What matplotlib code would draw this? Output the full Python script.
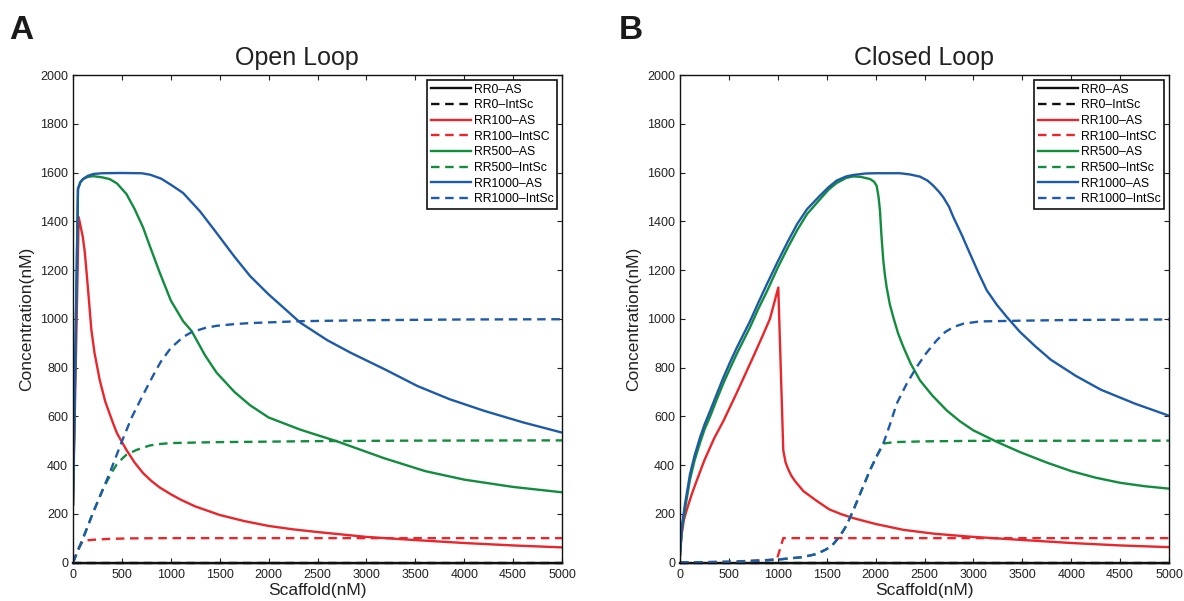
import numpy as np
import matplotlib
matplotlib.use('Agg')
import matplotlib.pyplot as plt

plt.rcParams['font.family'] = ['Liberation Sans', 'DejaVu Sans']

# ---- data (Scaffold nM -> Concentration nM) ----
titles = ['Open Loop', 'Closed Loop']
panel_labels = ['A', 'B']
series_names = ['RR0–AS', 'RR0–IntSc', 'RR100–AS', 'RR100–IntSC',
                'RR500–AS', 'RR500–IntSc', 'RR1000–AS', 'RR1000–IntSc']

# open loop
ol_rr0_as_x = [0, 5000]
ol_rr0_as_y = [0, 0]
ol_rr0_int_x = [0, 5000]
ol_rr0_int_y = [0, 0]
ol_rr100_as_x = [0, 58, 100, 120, 137, 160, 188, 220, 273, 330, 409, 450, 546,
                 630, 716, 800, 886, 1000, 1100, 1250, 1500, 1750, 2000, 2250,
                 2500, 3000, 3500, 4000, 4500, 5000]
ol_rr100_as_y = [237, 1417, 1336, 1275, 1199, 1090, 954, 860, 749, 660, 572, 530, 462,
                 410, 367, 335, 308, 280, 258, 230, 195, 170, 150, 136,
                 125, 105, 92, 80, 70, 62]
ol_rr100_int_x = [0, 50, 100, 150, 200, 375, 600, 1000, 5000]
ol_rr100_int_y = [0, 53, 87, 91, 93, 97, 99, 100, 100]
ol_rr500_as_x = [0, 51, 75, 102, 150, 208, 300, 375, 450, 546, 630, 716, 784,
                 886, 1000, 1126, 1212, 1350, 1468, 1650, 1811, 2000, 2324,
                 2700, 3180, 3600, 4000, 4500, 5000]
ol_rr500_as_y = [237, 1533, 1560, 1573, 1582, 1585, 1580, 1573, 1555, 1512, 1450, 1375, 1300,
                 1190, 1075, 990, 950, 850, 779, 700, 645, 595, 545,
                 497, 428, 375, 340, 310, 288]
ol_rr500_int_x = [0, 100, 200, 300, 350, 400, 443, 500, 546, 650, 784, 886,
                  1000, 1500, 1811, 2500, 3500, 5000]
ol_rr500_int_y = [0, 95, 200, 295, 335, 372, 400, 425, 442, 462, 480, 486,
                  490, 494, 495, 498, 500, 501]
ol_rr1000_as_x = [0, 51, 75, 102, 150, 208, 300, 500, 700, 789, 900, 1000,
                  1126, 1300, 1468, 1650, 1811, 2000, 2324, 2600, 2837, 3200,
                  3522, 3850, 4206, 4600, 5000]
ol_rr1000_as_y = [237, 1533, 1560, 1573, 1586, 1594, 1597, 1598, 1597, 1591, 1575, 1550,
                  1516, 1440, 1352, 1255, 1175, 1100, 984, 912, 861, 790,
                  724, 670, 622, 575, 533]
ol_rr1000_int_x = [0, 100, 204, 375, 500, 600, 700, 784, 850, 900, 1000, 1126,
                   1212, 1350, 1468, 1650, 1800, 2324, 3000, 4000, 5000]
ol_rr1000_int_y = [0, 98, 203, 367, 497, 595, 675, 740, 790, 825, 880, 925,
                   945, 962, 971, 978, 982, 990, 994, 997, 998]

# closed loop
cl_rr0_as_x = [0, 5000]
cl_rr0_as_y = [0, 0]
cl_rr0_int_x = [0, 5000]
cl_rr0_int_y = [0, 0]
cl_rr100_as_x = [0, 15, 40, 68, 120, 170, 250, 350, 443, 579, 750, 850, 920,
                 1005, 1030, 1056, 1080, 1107, 1140, 1176, 1261, 1397, 1526,
                 1650, 1773, 2000, 2284, 2600, 2965, 3476, 4000, 4500, 5000]
cl_rr100_as_y = [30, 110, 175, 215, 280, 335, 420, 510, 580, 695, 845, 935, 1000,
                 1128, 800, 460, 410, 382, 355, 334, 293, 253, 218,
                 198, 182, 158, 134, 118, 106, 93, 80, 70, 63]
cl_rr100_int_x = [0, 500, 990, 1056, 1200, 5000]
cl_rr100_int_y = [0, 3, 12, 100, 100, 100]
cl_rr500_as_x = [0, 20, 51, 102, 150, 204, 250, 307, 375, 443, 510, 579, 650,
                 716, 800, 886, 1000, 1100, 1200, 1300, 1431, 1520, 1602, 1700,
                 1773, 1850, 1944, 1985, 2011, 2030, 2045, 2060, 2079, 2095,
                 2113, 2145, 2181, 2230, 2284, 2360, 2454, 2580, 2727, 2860,
                 3000, 3240, 3476, 3750, 4000, 4250, 4500, 4750, 5000]
cl_rr500_as_y = [30, 140, 220, 340, 420, 490, 545, 598, 668, 735, 795, 855, 912,
                 965, 1040, 1110, 1210, 1290, 1365, 1430, 1490, 1530, 1557, 1578,
                 1584, 1582, 1573, 1562, 1545, 1500, 1442, 1340, 1238, 1180,
                 1129, 1060, 1006, 940, 884, 815, 747, 685, 624, 580,
                 542, 495, 453, 410, 375, 348, 327, 313, 303]
cl_rr500_int_x = [0, 600, 1000, 1250, 1400, 1500, 1560, 1602, 1650, 1700, 1773,
                  1850, 1943, 2010, 2079, 2113, 2200, 2500, 3000, 5000]
cl_rr500_int_y = [0, 3, 12, 22, 35, 55, 72, 92, 118, 150, 215,
                  290, 379, 435, 488, 490, 494, 497, 499, 500]
cl_rr1000_as_x = [0, 20, 51, 102, 150, 204, 250, 307, 375, 443, 510, 579, 650,
                  716, 800, 886, 1000, 1100, 1200, 1300, 1431, 1520, 1602, 1700,
                  1773, 1900, 2000, 2250, 2350, 2454, 2530, 2590, 2650, 2693,
                  2750, 2795, 2880, 2965, 3050, 3136, 3240, 3340, 3476, 3630,
                  3791, 4050, 4303, 4650, 5000]
cl_rr1000_as_y = [30, 150, 239, 362, 440, 512, 565, 621, 690, 758, 820, 880, 937,
                  990, 1065, 1140, 1235, 1315, 1390, 1450, 1505, 1540, 1567, 1584,
                  1590, 1596, 1597, 1597, 1592, 1583, 1567, 1546, 1520, 1498,
                  1460, 1417, 1345, 1267, 1190, 1117, 1057, 1008, 946, 888,
                  832, 765, 709, 652, 602]
cl_rr1000_int_x = [0, 600, 1000, 1250, 1400, 1500, 1560, 1602, 1650, 1700, 1773,
                   1850, 1943, 2010, 2079, 2150, 2216, 2320, 2420, 2520, 2624,
                   2710, 2795, 2900, 3067, 3476, 4000, 5000]
cl_rr1000_int_y = [0, 3, 12, 22, 35, 55, 72, 92, 118, 150, 215,
                   290, 379, 435, 488, 570, 652, 735, 802, 860, 911,
                   945, 966, 980, 989, 992, 995, 997]

panels = [
    [(ol_rr0_as_x, ol_rr0_as_y), (ol_rr0_int_x, ol_rr0_int_y),
     (ol_rr100_as_x, ol_rr100_as_y), (ol_rr100_int_x, ol_rr100_int_y),
     (ol_rr500_as_x, ol_rr500_as_y), (ol_rr500_int_x, ol_rr500_int_y),
     (ol_rr1000_as_x, ol_rr1000_as_y), (ol_rr1000_int_x, ol_rr1000_int_y)],
    [(cl_rr0_as_x, cl_rr0_as_y), (cl_rr0_int_x, cl_rr0_int_y),
     (cl_rr100_as_x, cl_rr100_as_y), (cl_rr100_int_x, cl_rr100_int_y),
     (cl_rr500_as_x, cl_rr500_as_y), (cl_rr500_int_x, cl_rr500_int_y),
     (cl_rr1000_as_x, cl_rr1000_as_y), (cl_rr1000_int_x, cl_rr1000_int_y)],
]

colors = ['#111111', '#111111', '#E8262B', '#E8262B',
          '#128C3E', '#128C3E', '#1E5AA8', '#1E5AA8']
dashed = [False, True] * 4

fig = plt.figure(figsize=(11.84, 6.01), dpi=100)
lefts = [73 / 1184, 680 / 1184]
label_x = [0.008, 0.523]
title_x = [0.457, 0.5]

for p in range(2):
    ax = fig.add_axes([lefts[p], 38.5 / 601, 489 / 1184, 487.5 / 601])
    for i, (xs, ys) in enumerate(panels[p]):
        ls = (0, (3.6, 2.4)) if dashed[i] else '-'
        ax.plot(xs, ys, color=colors[i], lw=1.7, ls=ls, label=series_names[i],
                solid_joinstyle='round', clip_on=False if i < 2 else True)
    ax.set_xlim(0, 5000)
    ax.set_ylim(0, 2000)
    ax.set_xticks(np.arange(0, 5001, 500))
    ax.set_yticks(np.arange(0, 2001, 200))
    ax.tick_params(direction='in', top=True, right=True, length=3.5, width=0.8,
                   labelsize=9, colors='#222222')
    ax.tick_params(axis='x', pad=5)
    ax.tick_params(axis='y', pad=3.5)
    for s in ax.spines.values():
        s.set_linewidth(1.0)
        s.set_color('#111111')
    ax.set_title(titles[p], fontsize=18, pad=7, color='#222222', x=title_x[p])
    ax.set_xlabel('Scaffold(nM)', fontsize=12.5, color='#222222')
    ax.set_ylabel('Concentration(nM)', fontsize=12.5, color='#222222')
    ax.xaxis.set_label_coords(0.5, -0.042)
    ax.yaxis.set_label_coords(-0.08, 0.5)
    leg = ax.legend(loc='upper right', fontsize=8.8, handlelength=3.3,
                    labelspacing=0.3, handletextpad=0.2, borderpad=0.3,
                    borderaxespad=0.4, fancybox=False, framealpha=1)
    leg.get_frame().set_edgecolor('#111111')
    leg.get_frame().set_linewidth(1.2)
    fig.text(label_x[p], 0.975, panel_labels[p], fontsize=24, fontweight='bold',
             va='top', ha='left', color='#1a1a1a')

plt.savefig('out.png', dpi=100)
